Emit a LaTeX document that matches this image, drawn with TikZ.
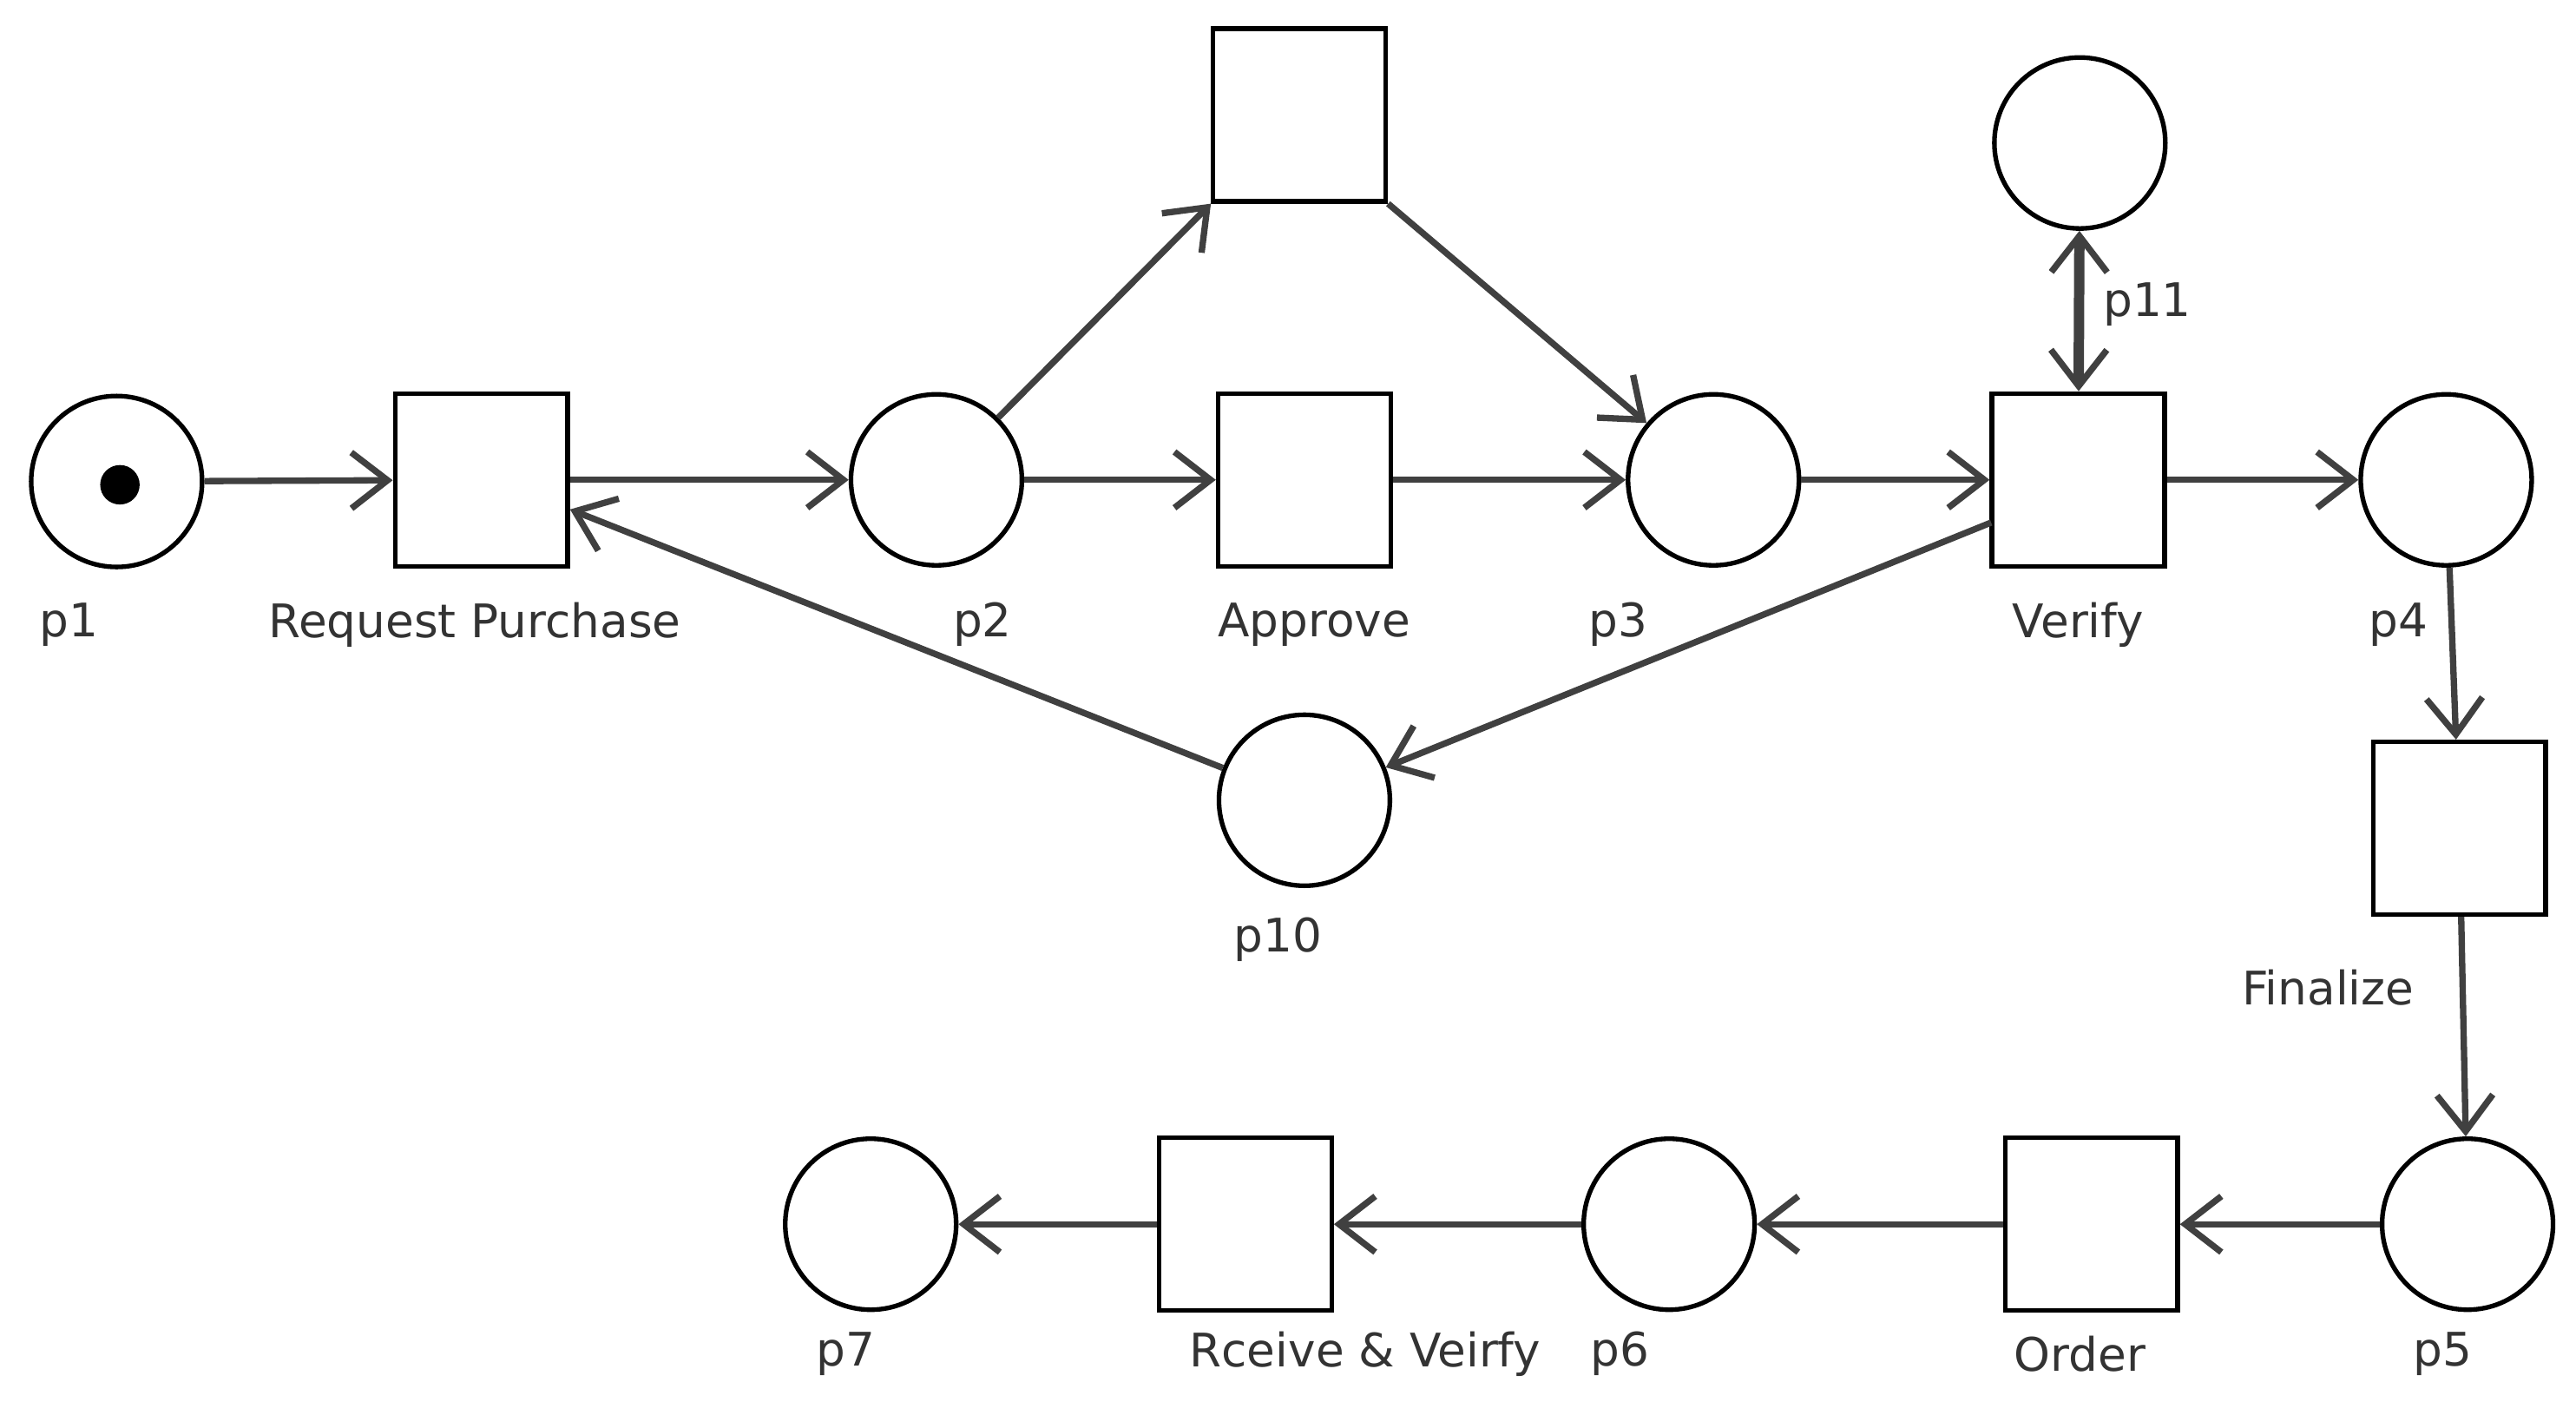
\documentclass[tikz,border=0pt]{standalone}
\usepackage{fontspec}
\setmainfont{DejaVu Sans}
\usetikzlibrary{arrows.meta}

\tikzset{
  place/.style={circle,draw=black,thick,minimum size=1.04cm,inner sep=0pt},
  transition/.style={rectangle,draw=black,thick,minimum size=1.05cm,inner sep=0pt},
  token/.style={circle,fill=black,minimum size=0.24cm,inner sep=0pt},
  barb/.tip={Straight Barb[length=2.2mm,width=3.4mm,line width=1.1pt]},
  arc/.style={draw=black!75,line width=1.1pt,-barb},
  biarc/.style={draw=black!75,line width=1.8pt,barb-barb},
  lbl/.style={font=\fontsize{8}{10}\selectfont,text=black!80,inner sep=0pt}
}

\begin{document}
\begin{tikzpicture}[x=0.01cm,y=-0.01cm]
\useasboundingbox (0,0) rectangle (1568,853);
    % places
    \node[place] (p1) at (71,293) {};
    \node[token] (tok) at (73,295) {};
    \node[place] (p2) at (570,292) {};
    \node[place] (p3) at (1043,292) {};
    \node[place] (p4) at (1489,292) {};
    \node[place] (p5) at (1502,745) {};
    \node[place] (p6) at (1016,745) {};
    \node[place] (p7) at (530,745) {};
    \node[place] (p10) at (794,487) {};
    \node[place] (p11) at (1266,87) {};
    % transitions
    \node[transition] (request) at (293,292) {};
    \node[transition] (skip) at (791,70) {};
    \node[transition] (approve) at (794,292) {};
    \node[transition] (verify) at (1265,292) {};
    \node[transition] (finalize) at (1497,504) {};
    \node[transition] (order) at (1273,745) {};
    \node[transition] (receive) at (758,745) {};
    % labels
    \node[lbl] (lp1) at (42,380) {p1};
    \node[lbl] (lrequest) at (289,380) {Request Purchase};
    \node[lbl] (lp2) at (598,380) {p2};
    \node[lbl] (lapprove) at (800,380) {Approve};
    \node[lbl] (lp3) at (985,380) {p3};
    \node[lbl] (lverify) at (1265,380) {Verify};
    \node[lbl] (lp4) at (1460,380) {p4};
    \node[lbl] (lp10) at (778,572) {p10};
    \node[lbl] (lp11) at (1307,185) {p11};
    \node[lbl] (lfinalize) at (1417,601) {Finalize};
    \node[lbl] (lp5) at (1487,824) {p5};
    \node[lbl] (lorder) at (1266,824) {Order};
    \node[lbl] (lreceive) at (831,824) {Rceive \& Veirfy};
    \node[lbl] (lp6) at (986,824) {p6};
    \node[lbl] (lp7) at (515,824) {p7};
    % arcs
    \draw[arc] (p1) -- (request);
    \draw[arc] (request) -- (p2);
    \draw[arc] (p2) -- (skip.south west);
    \draw[arc] (skip.south east) -- (p3);
    \draw[arc] (p2) -- (approve);
    \draw[arc] (approve) -- (p3);
    \draw[arc] (p3) -- (verify);
    \draw[arc] (verify) -- (p4);
    \draw[biarc] (p11) -- (verify);
    \coordinate (vl) at (1212,318);
    \coordinate (rl) at (347,310);
    \draw[arc] (vl) -- (p10);
    \draw[arc] (p10) -- (rl);
    \draw[arc] (p4) -- (finalize);
    \draw[arc] (finalize) -- (p5);
    \draw[arc] (p5) -- (order);
    \draw[arc] (order) -- (p6);
    \draw[arc] (p6) -- (receive);
    \draw[arc] (receive) -- (p7);
\end{tikzpicture}
\end{document}
